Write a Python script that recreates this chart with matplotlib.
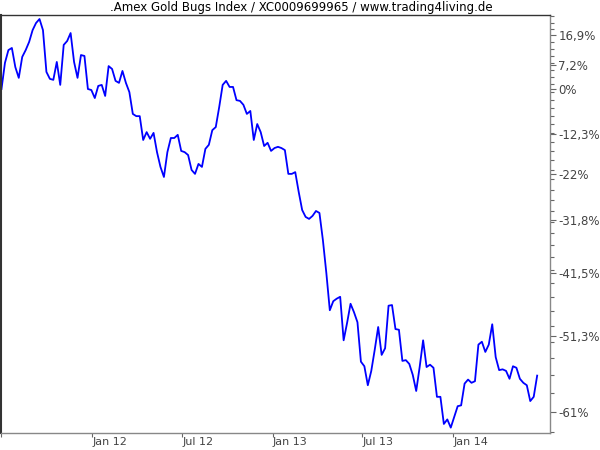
import matplotlib
matplotlib.use("Agg")
import matplotlib.pyplot as plt
import numpy as np
import pandas as pd
from matplotlib.ticker import FixedLocator, NullFormatter

title = ".Amex Gold Bugs Index / XC0009699965 / www.trading4living.de"
start_date = "2011-07-01"

# weekly performance in percent
pct_change = [
    0.0, 7.9, 12.0, 12.7, 6.6, 3.3, 9.8, 12.0, 14.7, 18.7,
    21.2, 22.6, 18.7, 5.1, 3.0, 2.7, 8.2, 1.2, 13.7, 15.0,
    17.7, 8.2, 3.3, 10.4, 10.1, 0.0, -0.3, -2.6, 0.9, 1.2,
    -2.0, 6.9, 6.0, 2.4, 1.8, 5.4, 1.8, -0.9, -7.0, -7.6,
    -7.6,
    -13.8, -11.8, -13.5, -12.0, -16.8, -20.3, -22.6, -16.8, -13.3, -13.3,
    -12.5, -16.5, -16.8, -17.5, -21.0, -21.9, -19.6, -20.3, -16.0, -15.0,
    -11.3, -10.5, -5.1, 1.2, 2.4, 0.6, 0.6, -3.2, -3.4, -4.5,
    -7.0, -6.2, -13.8, -9.7, -11.8, -15.3, -14.5, -16.5, -15.8, -15.5,
    -15.8, -16.3, -21.9, -21.9,
    -21.5, -25.9, -29.7, -31.1, -31.5, -30.9, -29.9, -30.3, -35.6, -41.5,
    -47.5, -46.1, -45.7, -45.4, -51.9, -49.4, -46.5, -47.8, -49.3, -54.8,
    -55.4, -57.8, -56.0, -53.2, -50.0, -53.9, -53.0, -46.8, -46.7, -50.3,
    -50.4, -54.7, -54.6, -55.1, -56.5, -58.5, -55.5, -51.9, -55.5, -55.2,
    -55.6, -59.2, -59.2, -62.3, -61.8, -62.7, -61.5, -60.3, -60.2, -57.6,
    -57.1, -57.5, -57.3, -52.5, -52.1, -53.5, -52.5, -49.6, -54.2, -55.9,
    -55.8, -56.0, -57.0, -55.4, -55.6, -57.0, -57.5, -57.8, -59.7, -59.2,
    -56.6,
]

ytick_pct = [16.9, 7.2, 0.0, -12.3, -22.0, -31.8, -41.5, -51.3, -61.0]
ytick_labels = ["16,9%", "7,2%", "0%", "-12,3%", "-22%", "-31,8%", "-41,5%", "-51,3%", "-61%"]
xtick_dates = ["2011-07-01", "2012-01-01", "2012-07-01", "2013-01-01", "2013-07-01", "2014-01-01"]
xtick_labels = ["", "Jan 12", "Jul 12", "Jan 13", "Jul 13", "Jan 14"]

dates = pd.date_range(start_date, periods=len(pct_change), freq="7D")
ratio = 1 + np.array(pct_change) / 100.0

plt.rcParams["font.family"] = ["DejaVu Sans"]

fig = plt.figure(figsize=(6, 4.5), dpi=100)
ax = fig.add_axes([1 / 600, 17 / 450, 549 / 600, 418 / 450])

ax.plot(dates, ratio, color="#0000ff", lw=1.3, solid_joinstyle="round")

ax.set_yscale("log")
ax.set_ylim(0.3672, 1.2405)
ax.set_xlim(pd.Timestamp("2011-06-30"), pd.Timestamp("2014-07-16"))

ax.yaxis.tick_right()
major_vals = 1 + np.array(ytick_pct) / 100.0
ax.yaxis.set_major_locator(FixedLocator(major_vals))
ax.set_yticklabels(ytick_labels)
step = (major_vals[0] - major_vals[-1]) / (len(major_vals) - 2) / 5
minor_vals = np.arange(major_vals[-1] - step, 1.25, step)
ax.yaxis.set_minor_locator(FixedLocator(minor_vals))
ax.yaxis.set_minor_formatter(NullFormatter())

ax.set_xticks(pd.to_datetime(xtick_dates))
ax.set_xticklabels(xtick_labels, ha="left")
ax.xaxis.set_minor_locator(FixedLocator([]))

ax.tick_params(axis="y", which="major", length=4, width=0.8, color="#666666",
               labelsize=8.5, labelcolor="#444444", pad=2)
ax.tick_params(axis="y", which="minor", length=3, width=0.8, color="#666666")
ax.tick_params(axis="x", which="major", length=3, width=0.8, color="#666666",
               labelsize=8, labelcolor="#444444", pad=0)

ax.spines["left"].set_color("#333333")
ax.spines["left"].set_linewidth(1.5)
ax.spines["top"].set_color("#333333")
ax.spines["top"].set_linewidth(1.0)
ax.spines["right"].set_color("#888888")
ax.spines["right"].set_linewidth(1.0)
ax.spines["bottom"].set_color("#888888")
ax.spines["bottom"].set_linewidth(1.0)

fig.text(0.502, 1 - 7 / 450, title, ha="center", va="center", fontsize=8.5, color="black")

fig.savefig("out.png", dpi=100)
